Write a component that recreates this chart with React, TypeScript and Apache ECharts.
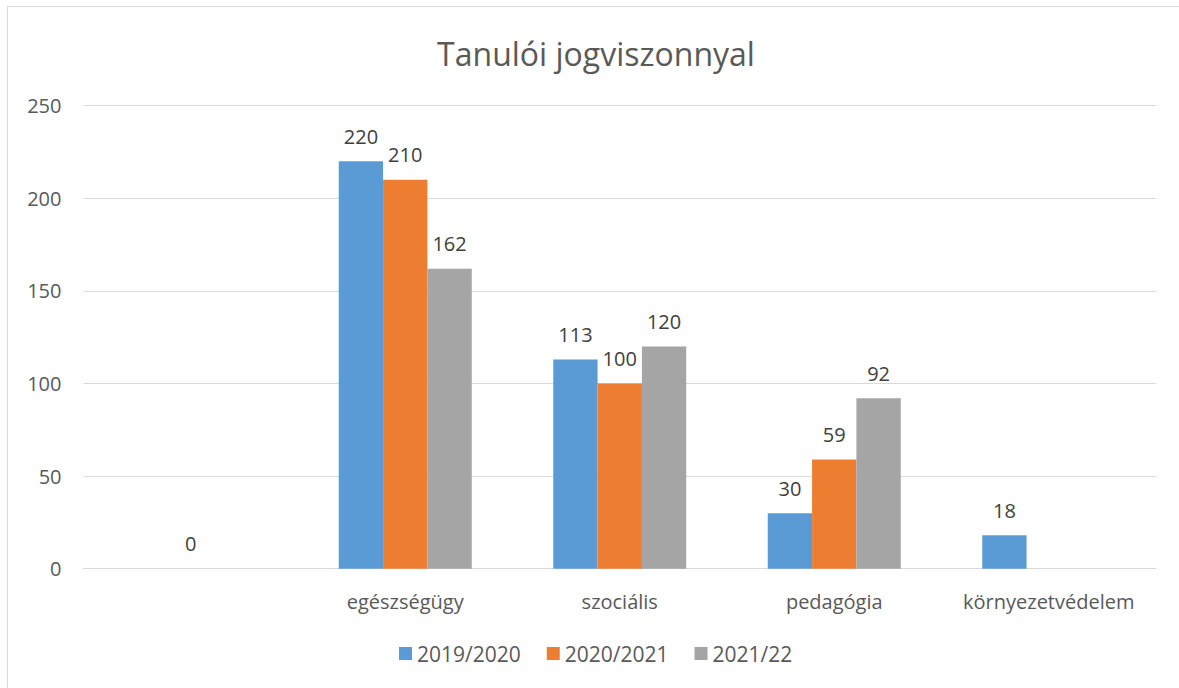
import React, { useEffect, useRef } from "react";
import * as echarts from "echarts";

const categories = ["", "egészségügy", "szociális", "pedagógia", "környezetvédelem"];
const seriesNames = ["2019/2020", "2020/2021", "2021/22"];
const s2019: (number | null)[] = [null, 220, 113, 30, 18];
const s2020: (number | null)[] = [0, 210, 100, 59, null];
const s2021: (number | null)[] = [null, 162, 120, 92, null];
const colors = ["#5B9BD5", "#ED7D31", "#A5A5A5"];
const yTicks = { min: 0, max: 250, interval: 50 };
const title = "Tanulói jogviszonnyal";

const FONT = "'Open Sans', sans-serif";

export default function App() {
  const ref = useRef<HTMLDivElement>(null);
  useEffect(() => {
    if (!ref.current) return;
    const chart = echarts.init(ref.current, undefined, { renderer: "svg" });
    const data = [s2019, s2020, s2021];
    chart.setOption({
      animation: false,
      backgroundColor: "#ffffff",
      textStyle: { fontFamily: FONT },
      title: {
        text: title,
        left: 596,
        textAlign: "center",
        top: 37,
        padding: 0,
        textStyle: { fontFamily: FONT, fontSize: 32, fontWeight: "normal", color: "#595959" },
      },
      graphic: [
        {
          type: "rect",
          shape: { x: 7.5, y: 6.5, width: 1300, height: 800 },
          style: { fill: "none", stroke: "#D9D9D9", lineWidth: 1 },
          silent: true,
        },
      ],
      legend: {
        bottom: 24,
        left: 399,
        padding: 0,
        itemWidth: 13,
        itemHeight: 13,
        itemGap: 26,
        icon: "rect",
        textStyle: { fontFamily: FONT, fontSize: 21, color: "#595959" },
        data: seriesNames,
      },
      grid: { left: 83.5, right: 23, top: 105.7, bottom: 119.3, containLabel: false },
      xAxis: {
        type: "category",
        data: categories,
        axisLine: { show: true, lineStyle: { color: "#D9D9D9", width: 1 } },
        axisTick: { show: false },
        axisLabel: { fontFamily: FONT, fontSize: 20, color: "#595959", margin: 23, interval: 0 },
      },
      yAxis: {
        type: "value",
        min: yTicks.min,
        max: yTicks.max,
        interval: yTicks.interval,
        axisLine: { show: false },
        axisTick: { show: false },
        splitLine: { lineStyle: { color: "#D9D9D9", width: 1 } },
        axisLabel: { fontFamily: FONT, fontSize: 20, color: "#595959", margin: 22 },
      },
      series: seriesNames.map((name, i) => ({
        name,
        type: "bar",
        data: data[i],
        barGap: "0%",
        barCategoryGap: "38%",
        itemStyle: { color: colors[i] },
        label: {
          show: true,
          position: "top",
          distance: 15,
          fontFamily: FONT,
          fontSize: 20,
          color: "#404040",
        },
      })),
    });
    return () => chart.dispose();
  }, []);
  return (
    <div
      ref={ref}
      style={{ position: "fixed", left: 0, top: 0, width: 1179, height: 688 }}
    />
  );
}
